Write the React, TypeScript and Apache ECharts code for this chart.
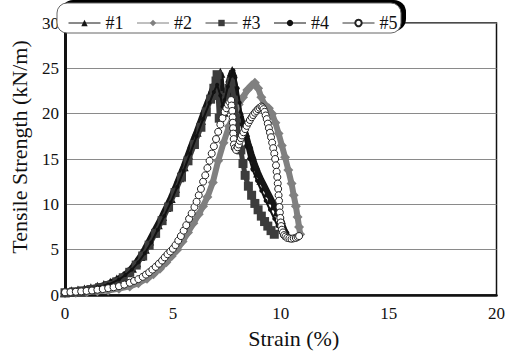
import React, { useEffect, useRef } from "react";
import * as echarts from "echarts";

const seriesNames = ["#1", "#2", "#3", "#4", "#5"];
const xTicks = [0, 5, 10, 15, 20];
const yTicks = [0, 5, 10, 15, 20, 25, 30];

const s1: [number, number][] = [
  [0, 0.3], [0.3, 0.4], [0.6, 0.5], [0.9, 0.6], [1.2, 0.75], [1.5, 0.9], [1.8, 1.1], [2.1, 1.35],
  [2.4, 1.7], [2.7, 2.1], [2.9, 2.5], [3.1, 3.0], [3.3, 3.6], [3.5, 4.3], [3.7, 5.1], [3.9, 6.0],
  [4.1, 6.9], [4.3, 7.8], [4.5, 8.7], [4.7, 9.7], [4.9, 10.7], [5.1, 11.8], [5.3, 13.0], [5.5, 14.2],
  [5.7, 15.5], [5.9, 16.8], [6.1, 18.0], [6.3, 19.3], [6.5, 20.6], [6.7, 21.8], [6.85, 22.8], [7.0, 23.6],
  [7.1, 24.2], [7.2, 24.5], [7.25, 23.0], [7.3, 21.5], [7.35, 20.2], [7.45, 21.0], [7.55, 22.5], [7.65, 24.0],
  [7.75, 24.7], [7.85, 23.3], [7.95, 21.8], [8.05, 20.4], [8.2, 19.2], [8.35, 18.0], [8.5, 16.7], [8.65, 15.5],
  [8.8, 14.4], [8.95, 13.5], [9.1, 12.7], [9.25, 12.0], [9.4, 11.3], [9.55, 10.6], [9.7, 9.9], [9.85, 9.2],
  [10.0, 8.4], [10.1, 7.6], [10.2, 7.0], [10.3, 6.7]
];

const s2: [number, number][] = [
  [0, 0.2], [0.5, 0.25], [1.0, 0.3], [1.5, 0.4], [2.0, 0.5], [2.5, 0.7], [3.0, 0.95], [3.4, 1.3],
  [3.8, 1.8], [4.1, 2.3], [4.4, 2.9], [4.7, 3.6], [4.95, 4.3], [5.2, 5.0], [5.45, 5.9], [5.7, 6.9],
  [5.95, 7.9], [6.2, 8.9], [6.4, 9.8], [6.6, 10.8], [6.85, 12.4], [7.1, 14.8], [7.35, 16.8], [7.6, 18.6],
  [7.85, 20.0], [8.05, 21.0], [8.25, 21.8], [8.45, 22.6], [8.65, 23.1], [8.8, 23.4], [8.95, 22.8], [9.1, 21.8],
  [9.25, 21.0], [9.45, 20.6], [9.6, 20.0], [9.75, 19.0], [9.9, 17.8], [10.05, 16.5], [10.2, 15.2], [10.35, 13.8],
  [10.5, 12.3], [10.6, 11.0], [10.7, 9.8], [10.78, 8.6], [10.85, 7.5], [10.9, 6.7]
];

const s3: [number, number][] = [
  [0, 0.25], [0.4, 0.35], [0.8, 0.45], [1.2, 0.6], [1.6, 0.8], [2.0, 1.05], [2.4, 1.45], [2.7, 1.9],
  [3.0, 2.5], [3.3, 3.3], [3.6, 4.3], [3.9, 5.5], [4.2, 6.8], [4.5, 8.2], [4.8, 9.7], [5.1, 11.3],
  [5.4, 13.0], [5.7, 14.8], [6.0, 16.6], [6.3, 18.5], [6.55, 20.2], [6.75, 21.6], [6.9, 22.8], [7.0, 23.6],
  [7.05, 24.3], [7.1, 22.0], [7.15, 19.5], [7.3, 20.5], [7.45, 21.8], [7.6, 22.8], [7.7, 23.5], [7.85, 21.5],
  [7.95, 19.5], [8.05, 17.5], [8.15, 16.0], [8.25, 14.5], [8.35, 13.2], [8.5, 12.0], [8.65, 11.0], [8.8, 10.1],
  [8.95, 9.4], [9.1, 8.7], [9.25, 8.1], [9.4, 7.6], [9.55, 7.1], [9.7, 6.7]
];

const s4: [number, number][] = [
  [0, 0.2], [0.5, 0.4], [1.0, 0.6], [1.5, 0.85], [2.0, 1.15], [2.5, 1.7], [2.8, 2.2], [3.1, 2.8],
  [3.4, 3.6], [3.7, 4.6], [4.0, 5.8], [4.3, 7.2], [4.6, 8.7], [4.9, 10.2], [5.2, 11.9], [5.5, 13.7],
  [5.8, 15.6], [6.1, 17.5], [6.4, 19.4], [6.7, 21.2], [6.9, 22.4], [7.05, 23.2], [7.2, 22.0], [7.3, 20.8],
  [7.4, 21.5], [7.55, 23.0], [7.7, 24.2], [7.8, 24.8], [7.9, 24.0], [8.0, 22.8], [8.1, 21.2], [8.2, 19.6],
  [8.3, 18.0], [8.4, 16.5], [8.55, 15.0], [8.7, 13.8], [8.9, 12.6], [9.1, 11.5], [9.3, 10.4], [9.5, 9.4],
  [9.7, 8.4], [9.85, 7.6], [10.0, 7.0]
];

const s5: [number, number][] = [
  [0, 0.3], [0.25, 0.32], [0.5, 0.36], [0.75, 0.4], [1.0, 0.45], [1.25, 0.5], [1.5, 0.58], [1.75, 0.65],
  [2.0, 0.75], [2.25, 0.85], [2.5, 0.97], [2.75, 1.15], [3.0, 1.35], [3.2, 1.55], [3.4, 1.75], [3.6, 2.0],
  [3.75, 2.25], [3.9, 2.5], [4.05, 2.8], [4.2, 3.1], [4.35, 3.45], [4.5, 3.8], [4.62, 4.15], [4.75, 4.5],
  [4.88, 4.8], [5.0, 5.1], [5.12, 5.5], [5.25, 6.0], [5.37, 6.5], [5.5, 7.1], [5.62, 7.7], [5.75, 8.4],
  [5.87, 9.0], [6.0, 9.7], [6.1, 10.3], [6.2, 11.0], [6.3, 11.7], [6.4, 12.5], [6.5, 13.2], [6.6, 14.0],
  [6.7, 14.8], [6.8, 15.6], [6.9, 16.4], [7.0, 17.2], [7.1, 18.0], [7.2, 18.8], [7.3, 19.5], [7.4, 20.2],
  [7.48, 20.6], [7.55, 21.0], [7.62, 21.3], [7.7, 21.5], [7.72, 20.9], [7.75, 20.3], [7.77, 19.6], [7.78, 19.0],
  [7.79, 18.4], [7.8, 17.8], [7.82, 17.2], [7.83, 16.6], [7.87, 16.2], [7.93, 16.0], [8.0, 16.3], [8.05, 16.6],
  [8.1, 17.0], [8.15, 17.3], [8.2, 17.6], [8.27, 17.95], [8.35, 18.3], [8.42, 18.65], [8.5, 19.0], [8.57, 19.3],
  [8.65, 19.6], [8.72, 19.85], [8.8, 20.1], [8.87, 20.3], [8.95, 20.5], [9.02, 20.65], [9.1, 20.8], [9.15, 20.7],
  [9.2, 20.5], [9.25, 20.2], [9.3, 19.8], [9.35, 19.4], [9.4, 18.9], [9.45, 18.4], [9.5, 17.9], [9.55, 17.4],
  [9.6, 16.8], [9.65, 16.2], [9.7, 15.6], [9.74, 15.0], [9.78, 14.3], [9.81, 13.6], [9.84, 13.0], [9.86, 12.3],
  [9.88, 11.7], [9.9, 11.0], [9.92, 10.4], [9.94, 9.7], [9.96, 9.1], [9.98, 8.5], [10.0, 8.0], [10.02, 7.6],
  [10.05, 7.2], [10.1, 6.9], [10.15, 6.6], [10.22, 6.45], [10.3, 6.3], [10.4, 6.25], [10.5, 6.2], [10.6, 6.25],
  [10.7, 6.3], [10.78, 6.4], [10.85, 6.5]
];

const seriesData = [s1, s2, s3, s4, s5];
const seriesSymbols = ["triangle", "diamond", "rect", "circle", "circle"];
const seriesSizes = [10, 10, 9, 4, 7];
const seriesColors = ["#151515", "#808080", "#3c3c3c", "#111111", "#ffffff"];
const lineColors = ["#151515", "#808080", "#3c3c3c", "#111111", "#333333"];
const lineWidths = [6, 6, 5, 2, 1];

const FONT = "Liberation Serif";

export default function App() {
  const ref = useRef<HTMLDivElement>(null);
  useEffect(() => {
    if (!ref.current) return;
    const chart = echarts.init(ref.current, null, { renderer: "svg" });
    chart.setOption({
      animation: false,
      backgroundColor: "#ffffff",
      textStyle: { fontFamily: FONT },
      grid: {
        left: 60, right: 9, top: 23, bottom: 52,
        show: true, borderColor: "#111", borderWidth: 1.5, backgroundColor: "transparent"
      },
      legend: {
        data: seriesNames,
        left: 63, top: 9,
        itemWidth: 32, itemHeight: 8, itemGap: 13,
        lineStyle: { width: 1 },
        textStyle: { fontFamily: FONT, fontSize: 18, color: "#111" },
        z: 10
      },
      graphic: [
        {
          type: "rect", z: 5, silent: true,
          shape: { x: 61, y: 0, width: 345, height: 31, r: 12 },
          style: { fill: "#000" }
        },
        {
          type: "rect", z: 6, silent: true,
          shape: { x: 57, y: 3, width: 344, height: 30, r: 10 },
          style: { fill: "#fff", stroke: "#666", lineWidth: 1 }
        }
      ],
      xAxis: {
        type: "value", min: xTicks[0], max: xTicks[xTicks.length - 1], interval: 5,
        axisLine: { show: true, lineStyle: { color: "#111", width: 2.5 } },
        axisTick: { show: false },
        splitLine: { show: false },
        axisLabel: { fontFamily: FONT, fontSize: 17, color: "#111", margin: 10 },
        name: "Strain (%)", nameLocation: "middle", nameGap: 32,
        nameTextStyle: { fontFamily: FONT, fontSize: 22, color: "#111", padding: [0, 0, 0, 26] }
      },
      yAxis: {
        type: "value", min: yTicks[0], max: yTicks[yTicks.length - 1], interval: 5,
        axisLine: { show: true, lineStyle: { color: "#111", width: 3 } },
        axisTick: { show: false },
        splitLine: { show: true, lineStyle: { color: "#8a8a8a", width: 1.2 } },
        axisLabel: { fontFamily: FONT, fontSize: 17, color: "#111", margin: 6 },
        name: "Tensile Strength (kN/m)", nameLocation: "middle", nameGap: 35,
        nameTextStyle: { fontFamily: FONT, fontSize: 22, color: "#111", padding: [0, 0, 0, 24] }
      },
      series: seriesNames.map((name, i) => ({
        name,
        type: "line",
        data: seriesData[i],
        symbol: seriesSymbols[i],
        symbolSize: seriesSizes[i],
        showAllSymbol: true,
        lineStyle: { color: lineColors[i], width: lineWidths[i] },
        itemStyle: {
          color: seriesColors[i],
          borderColor: i === 4 ? "#222" : seriesColors[i],
          borderWidth: i === 4 ? 1 : 0
        },
        z: 2 + i
      }))
    });
    return () => chart.dispose();
  }, []);
  return (
    <div
      ref={ref}
      style={{ position: "absolute", left: 0, top: 0, width: 508, height: 354 }}
    />
  );
}
